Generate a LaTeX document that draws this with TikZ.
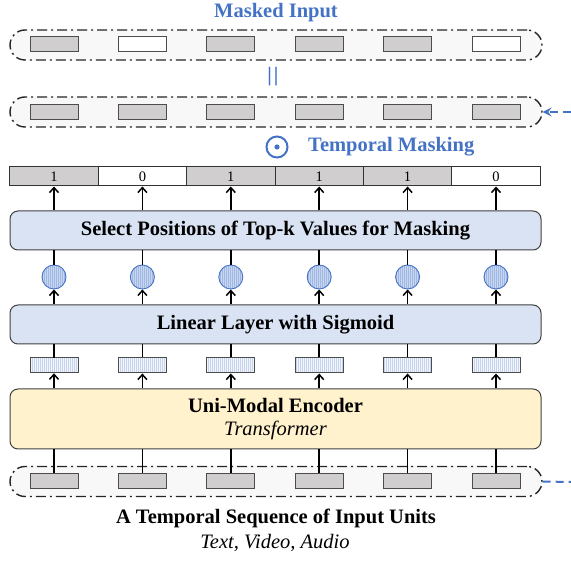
\documentclass[tikz,border=0pt]{standalone}
\usepackage{fontspec}
\setmainfont{Liberation Serif}
\usetikzlibrary{
  arrows.meta,
  calc,
  patterns.meta,
  positioning,
}
\definecolor{maskblue}{RGB}{68, 114, 196}
\definecolor{boxblue}{RGB}{218, 227, 243}
\definecolor{encyellow}{RGB}{255, 242, 204}
\definecolor{tokgray}{RGB}{208, 206, 206}
\definecolor{rowgray}{RGB}{248, 248, 248}
\definecolor{sigfill}{RGB}{200, 214, 239}
\definecolor{sigline}{RGB}{160, 185, 228}
\definecolor{featfill}{RGB}{242, 245, 252}
\definecolor{featline}{RGB}{198, 211, 236}
\newcommand\lblsize{\fontsize{20.5pt}{23pt}\selectfont}
\tikzstyle{arrow} = [
  -{Straight Barb[length=5pt,width=9pt]},
  line width=1.5pt,
]
\tikzstyle{link} = [line width=1.5pt]

\begin{document}
\begin{tikzpicture}[x=1pt, y=-1pt,
    every node/.style={inner sep=0pt},
    seqrow/.style={draw=black!85, fill=rowgray, line width=1.4pt,
                   dash pattern=on 10pt off 4pt on 2pt off 4pt,
                   minimum width=532pt, minimum height=30pt, rounded corners=15pt},
    token/.style={draw=black!70, line width=1pt, minimum width=48pt, minimum height=15pt},
    cell/.style={draw=black!80, line width=1pt, minimum width=88.4pt, minimum height=19pt,
                 font=\fontsize{14.5pt}{16pt}\selectfont},
    layer/.style={draw=black!75, line width=1pt, rounded corners=8pt,
                  minimum width=531pt, font=\lblsize\bfseries},
    sig/.style={circle, draw=maskblue, line width=0.9pt, minimum size=24pt,
                preaction={fill=sigfill},
                pattern={Lines[angle=90,distance=2pt,line width=0.5pt]}, pattern color=sigline},
    feat/.style={token, preaction={fill=featfill},
                 pattern={Lines[angle=90,distance=2pt,line width=0.5pt]}, pattern color=featline},
    bluelbl/.style={text=maskblue, font=\lblsize\bfseries},
    feedback/.style={maskblue, line width=2pt, dash pattern=on 8pt off 5pt},
  ]
  \useasboundingbox (0,0) rectangle (571,561);

  % token rows
  \node [seqrow] (outrow) at (276,45) {};
  \node [seqrow] (msk) at (276,112) {};
  \node [seqrow] (seq) at (276,481.5) {};

  % stacked layers
  \node [layer, fill=encyellow, minimum height=60pt, align=center] (enc) at (275.5,419)
        {Uni-Modal Encoder\\{\mdseries\itshape Transformer}};
  \node [layer, fill=boxblue, minimum height=39pt] (lin) at (275.5,324.5)
        {Linear Layer with Sigmoid};
  \node [layer, fill=boxblue, minimum height=39pt] (sel) at (275.5,230.5)
        {Select Positions of Top-k Values for Masking};

  \foreach \i/\v in {1/1,2/0,3/1,4/1,5/1,6/0} {
    \pgfmathsetmacro\cx{54+(\i-1)*88.4}
    \ifnum\v=1 \def\cellfill{tokgray}\else\def\cellfill{white}\fi
    \node [token, fill=tokgray] (tok\i) at (\cx,481) {};
    \node [feat] (feat\i) at (\cx,365.5) {};
    \node [sig] (sig\i) at (\cx,277) {};
    \node [cell, fill=\cellfill] (cell\i) at (\cx,176.5) {\v};
    \node [token, fill=tokgray] (mtok\i) at (\cx,112) {};
    \node [token, fill=\cellfill] (otok\i) at (\cx,44.5) {};

    \draw [link] (tok\i.north) -- (enc.south -| tok\i);
    \draw [arrow] (enc.north -| feat\i) -- (feat\i.south);
    \draw [link] (feat\i.north) -- (lin.south -| feat\i);
    \draw [arrow] (lin.north -| sig\i) -- (sig\i.south);
    \draw [link] (sig\i.north) -- (sel.south -| sig\i);
    \draw [arrow] (sel.north -| cell\i) -- (cell\i.south);
  }

  % masking labels
  \node [bluelbl] (masked) at (276,13) {Masked Input};
  \node [text=maskblue, font=\lblsize\bfseries] (equal) at (273,77) {|\kern2pt|};
  \node [circle, draw=maskblue, line width=2pt, minimum size=21pt] (odot) at (277,147) {};
  \fill [maskblue] (odot.center) circle (2.6pt);
  \node [bluelbl, anchor=west] (tmask) at (308,147) {Temporal Masking};

  % input caption
  \node [font=\lblsize\bfseries] (caption) at (276,518) {A Temporal Sequence of Input Units};
  \node [font=\lblsize\itshape] (modal) at (275,543) {Text, Video, Audio};

  % feedback from the input row
  \coordinate (fbin) at (571,482);
  \coordinate (fbout) at (571,112);
  \draw [feedback] (seq.east) -- (fbin);
  \draw [feedback, -{Stealth[length=9pt,width=9pt,inset=3.5pt]}] (fbout) -- (msk.east);
\end{tikzpicture}
\end{document}
